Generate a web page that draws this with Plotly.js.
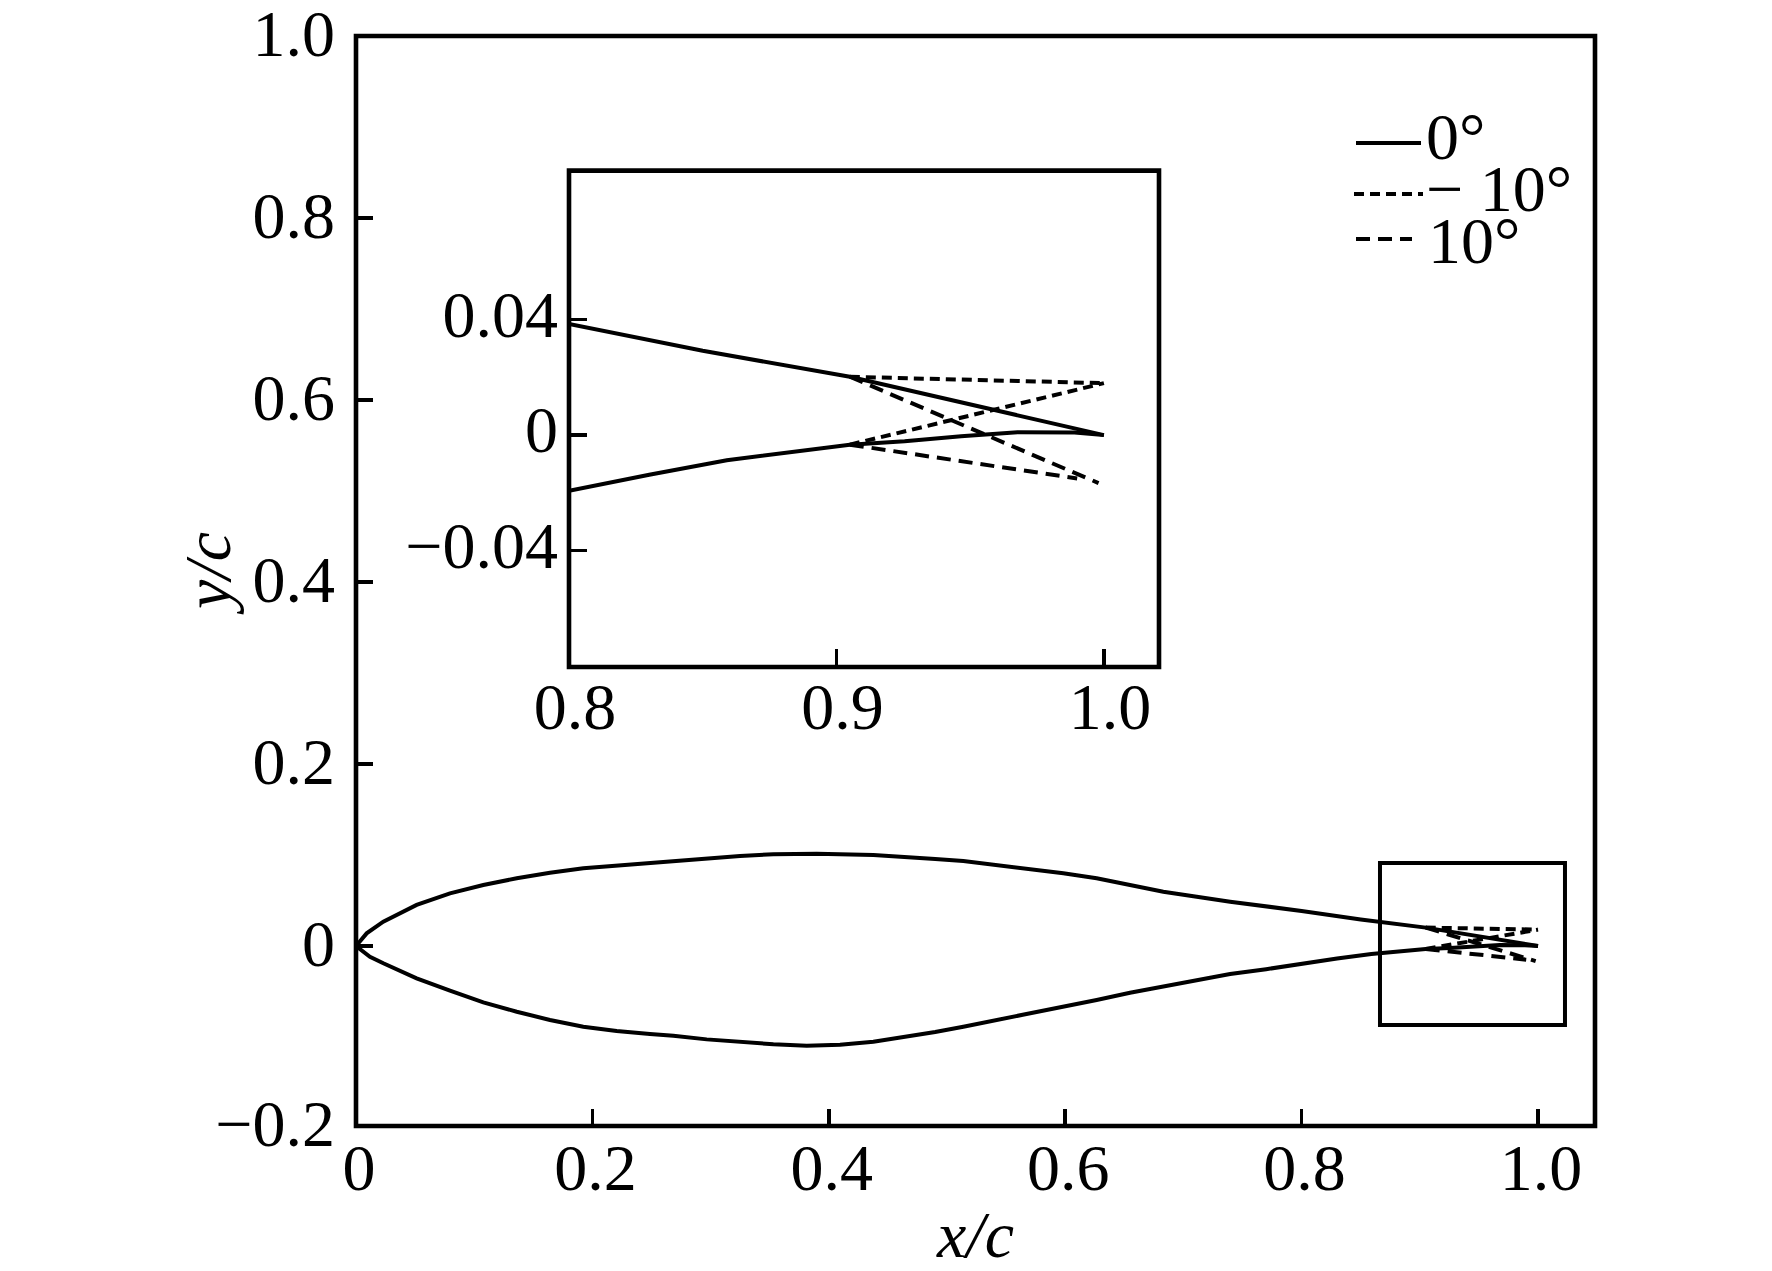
<!DOCTYPE html>
<html>
<head>
<meta charset="utf-8">
<script src="https://cdn.plot.ly/plotly-3.0.1.min.js"></script>
<style>html,body{margin:0;padding:0;background:#fff}</style>
</head>
<body>
<div id="chart" style="width:1772px;height:1271px"></div>
<script>
// Airfoil geometry
const upperX = [0, 0.0006, 0.009, 0.0231, 0.0513, 0.0795, 0.1077, 0.136, 0.1641, 0.1923, 0.2205, 0.2487, 0.2685, 0.2967, 0.3249, 0.3531, 0.3898, 0.4377, 0.4659, 0.4900, 0.5138, 0.542, 0.5702, 0.5984, 0.6266, 0.6548, 0.683, 0.7113, 0.7395, 0.8, 0.85, 0.905, 0.956, 1.0];
const upperY = [0, 0.001, 0.0139, 0.0267, 0.0451, 0.0579, 0.067, 0.0744, 0.0805, 0.0855, 0.0885, 0.0915, 0.0938, 0.0968, 0.099, 0.1008, 0.1015, 0.1, 0.0981, 0.0955, 0.0934, 0.089, 0.0843, 0.0799, 0.0744, 0.067, 0.0597, 0.0542, 0.0487, 0.0385, 0.0292, 0.0202, 0.0094, 0];
const lowerX = [0, 0.0118, 0.0231, 0.0513, 0.0795, 0.1077, 0.136, 0.1641, 0.1923, 0.2205, 0.2487, 0.2685, 0.2967, 0.3249, 0.3531, 0.3813, 0.4095, 0.4377, 0.4659, 0.4900, 0.5138, 0.542, 0.5702, 0.5984, 0.6266, 0.6548, 0.683, 0.7113, 0.7395, 0.77, 0.8, 0.83, 0.859, 0.905, 0.9255, 0.9466, 0.9677, 0.989, 1.0];
const lowerY = [0, -0.0118, -0.019, -0.0355, -0.0491, -0.0619, -0.0722, -0.0813, -0.0887, -0.0934, -0.0967, -0.0986, -0.1026, -0.1055, -0.108, -0.1095, -0.1085, -0.1052, -0.0997, -0.0945, -0.0887, -0.0813, -0.074, -0.0674, -0.0593, -0.0513, -0.0447, -0.0381, -0.0308, -0.0255, -0.0193, -0.0137, -0.0087, -0.0033, -0.0021, -0.0004, 0.001, 0.0009, 0];
// Deflected flap, -10 deg
const flapMinusUpperX = [0.905, 1.0];
const flapMinusUpperY = [0.0202, 0.018];
const flapMinusLowerX = [0.905, 1.0];
const flapMinusLowerY = [-0.0033, 0.018];
// Deflected flap, +10 deg
const flapPlusUpperX = [0.905, 0.998];
const flapPlusUpperY = [0.0202, -0.0166];
const flapPlusLowerX = [0.905, 0.99];
const flapPlusLowerY = [-0.0033, -0.015];

const mainXTicks = [0, 0.2, 0.4, 0.6, 0.8, 1.0];
const mainXLabels = ['0', '0.2', '0.4', '0.6', '0.8', '1.0'];
const mainYTicks = [-0.1975, 0, 0.2, 0.4, 0.6, 0.8, 1.0];
const mainYLabels = ['\u22120.2', '0', '0.2', '0.4', '0.6', '0.8', '1.0'];
const insetXTicks = [0.8, 0.9, 1.0];
const insetXLabels = ['0.8', '0.9', '1.0'];
const insetYTicks = [-0.04, 0, 0.04];
const insetYLabels = ['\u22120.04', '0', '0.04'];
const zoomBoxX = [0.8663, 1.0228];
const zoomBoxY = [-0.0868, 0.0912];
const legendNames = ['0\u00b0', '\u2212 10\u00b0', '10\u00b0'];
const xTitle = '<i>x/c</i>';
const yTitle = '<i>y/c</i>';

const FONT = 'Liberation Serif, Times New Roman, serif';
const SIZE = 66;
const BLACK = '#000';
const DOT = '10px,6px';
const DASH = '14px,8px';
const W = 1772, H = 1271, L = 356, R = 1595, T = 36, B = 1126;
const px = v => (v - L) / (R - L);
const py = v => (B - v) / (B - T);

const curves = [
  [upperX, upperY, 'solid'],
  [lowerX, lowerY, 'solid'],
  [flapMinusUpperX, flapMinusUpperY, DOT],
  [flapMinusLowerX, flapMinusLowerY, DOT],
  [flapPlusUpperX, flapPlusUpperY, DASH],
  [flapPlusLowerX, flapPlusLowerY, DASH]
];
const data = [];
[['x', 'y'], ['x2', 'y2']].forEach(([xa, ya]) => {
  curves.forEach(([x, y, dash]) => {
    data.push({x, y, xaxis: xa, yaxis: ya, type: 'scatter', mode: 'lines',
      showlegend: false, hoverinfo: 'skip',
      line: {color: BLACK, width: 4, dash, shape: 'linear'}});
  });
});

const axisBase = {
  showgrid: false, zeroline: false, showline: false,
  ticks: 'inside', tickwidth: 3.7, tickcolor: BLACK, ticklabeloverflow: 'allow',
  tickmode: 'array', tickfont: {family: FONT, size: SIZE, color: BLACK}
};
const frameLine = {color: BLACK, width: 4.6};
const noFill = 'rgba(0,0,0,0)';
const key = (x0, x1, y, dash) => ({type: 'line', xref: 'paper', yref: 'paper',
  x0: px(x0), x1: px(x1), y0: py(y), y1: py(y), line: {color: BLACK, width: 4, dash}, layer: 'above'});
const legendText = (text, x, y) => ({text, xref: 'paper', yref: 'paper', x: px(x), y: py(y),
  xanchor: 'left', yanchor: 'middle', showarrow: false, borderpad: 0,
  font: {family: FONT, size: SIZE, color: BLACK}});

const layout = {
  width: W, height: H, showlegend: false,
  paper_bgcolor: '#fff', plot_bgcolor: '#fff',
  margin: {l: L, r: W - R, t: T, b: H - B, pad: 0},
  xaxis: Object.assign({}, axisBase, {domain: [0, 1], range: [0, 1.0482], ticklen: 17,
    tickvals: mainXTicks, ticktext: mainXLabels, anchor: 'y', ticklabelshift: 3, ticklabelstandoff: -3,
    title: {text: xTitle, font: {family: FONT, size: SIZE, color: BLACK}, standoff: 11}}),
  yaxis: Object.assign({}, axisBase, {domain: [0, 1], range: [-0.1978, 1.0], ticklen: 17,
    tickvals: mainYTicks, ticktext: mainYLabels, anchor: 'x', ticklabelshift: -3, ticklabelstandoff: 20}),
  xaxis2: Object.assign({}, axisBase, {domain: [px(569), px(1159)], range: [0.8, 1.0206], ticklen: 18,
    tickvals: insetXTicks, ticktext: insetXLabels, anchor: 'y2', ticklabelshift: 6, ticklabelstandoff: -5}),
  yaxis2: Object.assign({}, axisBase, {domain: [py(667), py(170.6)], range: [-0.0803, 0.0916], ticklen: 18,
    tickvals: insetYTicks, ticktext: insetYLabels, anchor: 'x2', ticklabelshift: -6, ticklabelstandoff: 10}),
  shapes: [
    {type: 'rect', xref: 'paper', yref: 'paper', x0: 0, x1: 1, y0: 0, y1: 1,
      line: frameLine, fillcolor: noFill, layer: 'above'},
    {type: 'rect', xref: 'x2 domain', yref: 'y2 domain', x0: 0, x1: 1, y0: 0, y1: 1,
      line: frameLine, fillcolor: noFill, layer: 'above'},
    {type: 'rect', xref: 'x', yref: 'y', x0: zoomBoxX[0], x1: zoomBoxX[1], y0: zoomBoxY[0], y1: zoomBoxY[1],
      line: {color: BLACK, width: 4}, fillcolor: noFill, layer: 'above'},
    key(1356, 1421, 143, 'solid'),
    key(1354, 1423, 194, DOT),
    key(1356, 1412, 239, DASH)
  ],
  annotations: [
    legendText(legendNames[0], 1425, 136),
    legendText(legendNames[1], 1425, 189),
    legendText(legendNames[2], 1427, 240),
    {text: yTitle, xref: 'paper', yref: 'paper', x: px(207), y: py(574), xanchor: 'center', yanchor: 'middle',
      textangle: -90, showarrow: false, font: {family: FONT, size: SIZE, color: BLACK}}
  ]
};
Plotly.newPlot('chart', data, layout, {staticPlot: true, displayModeBar: false});
</script>
</body>
</html>
